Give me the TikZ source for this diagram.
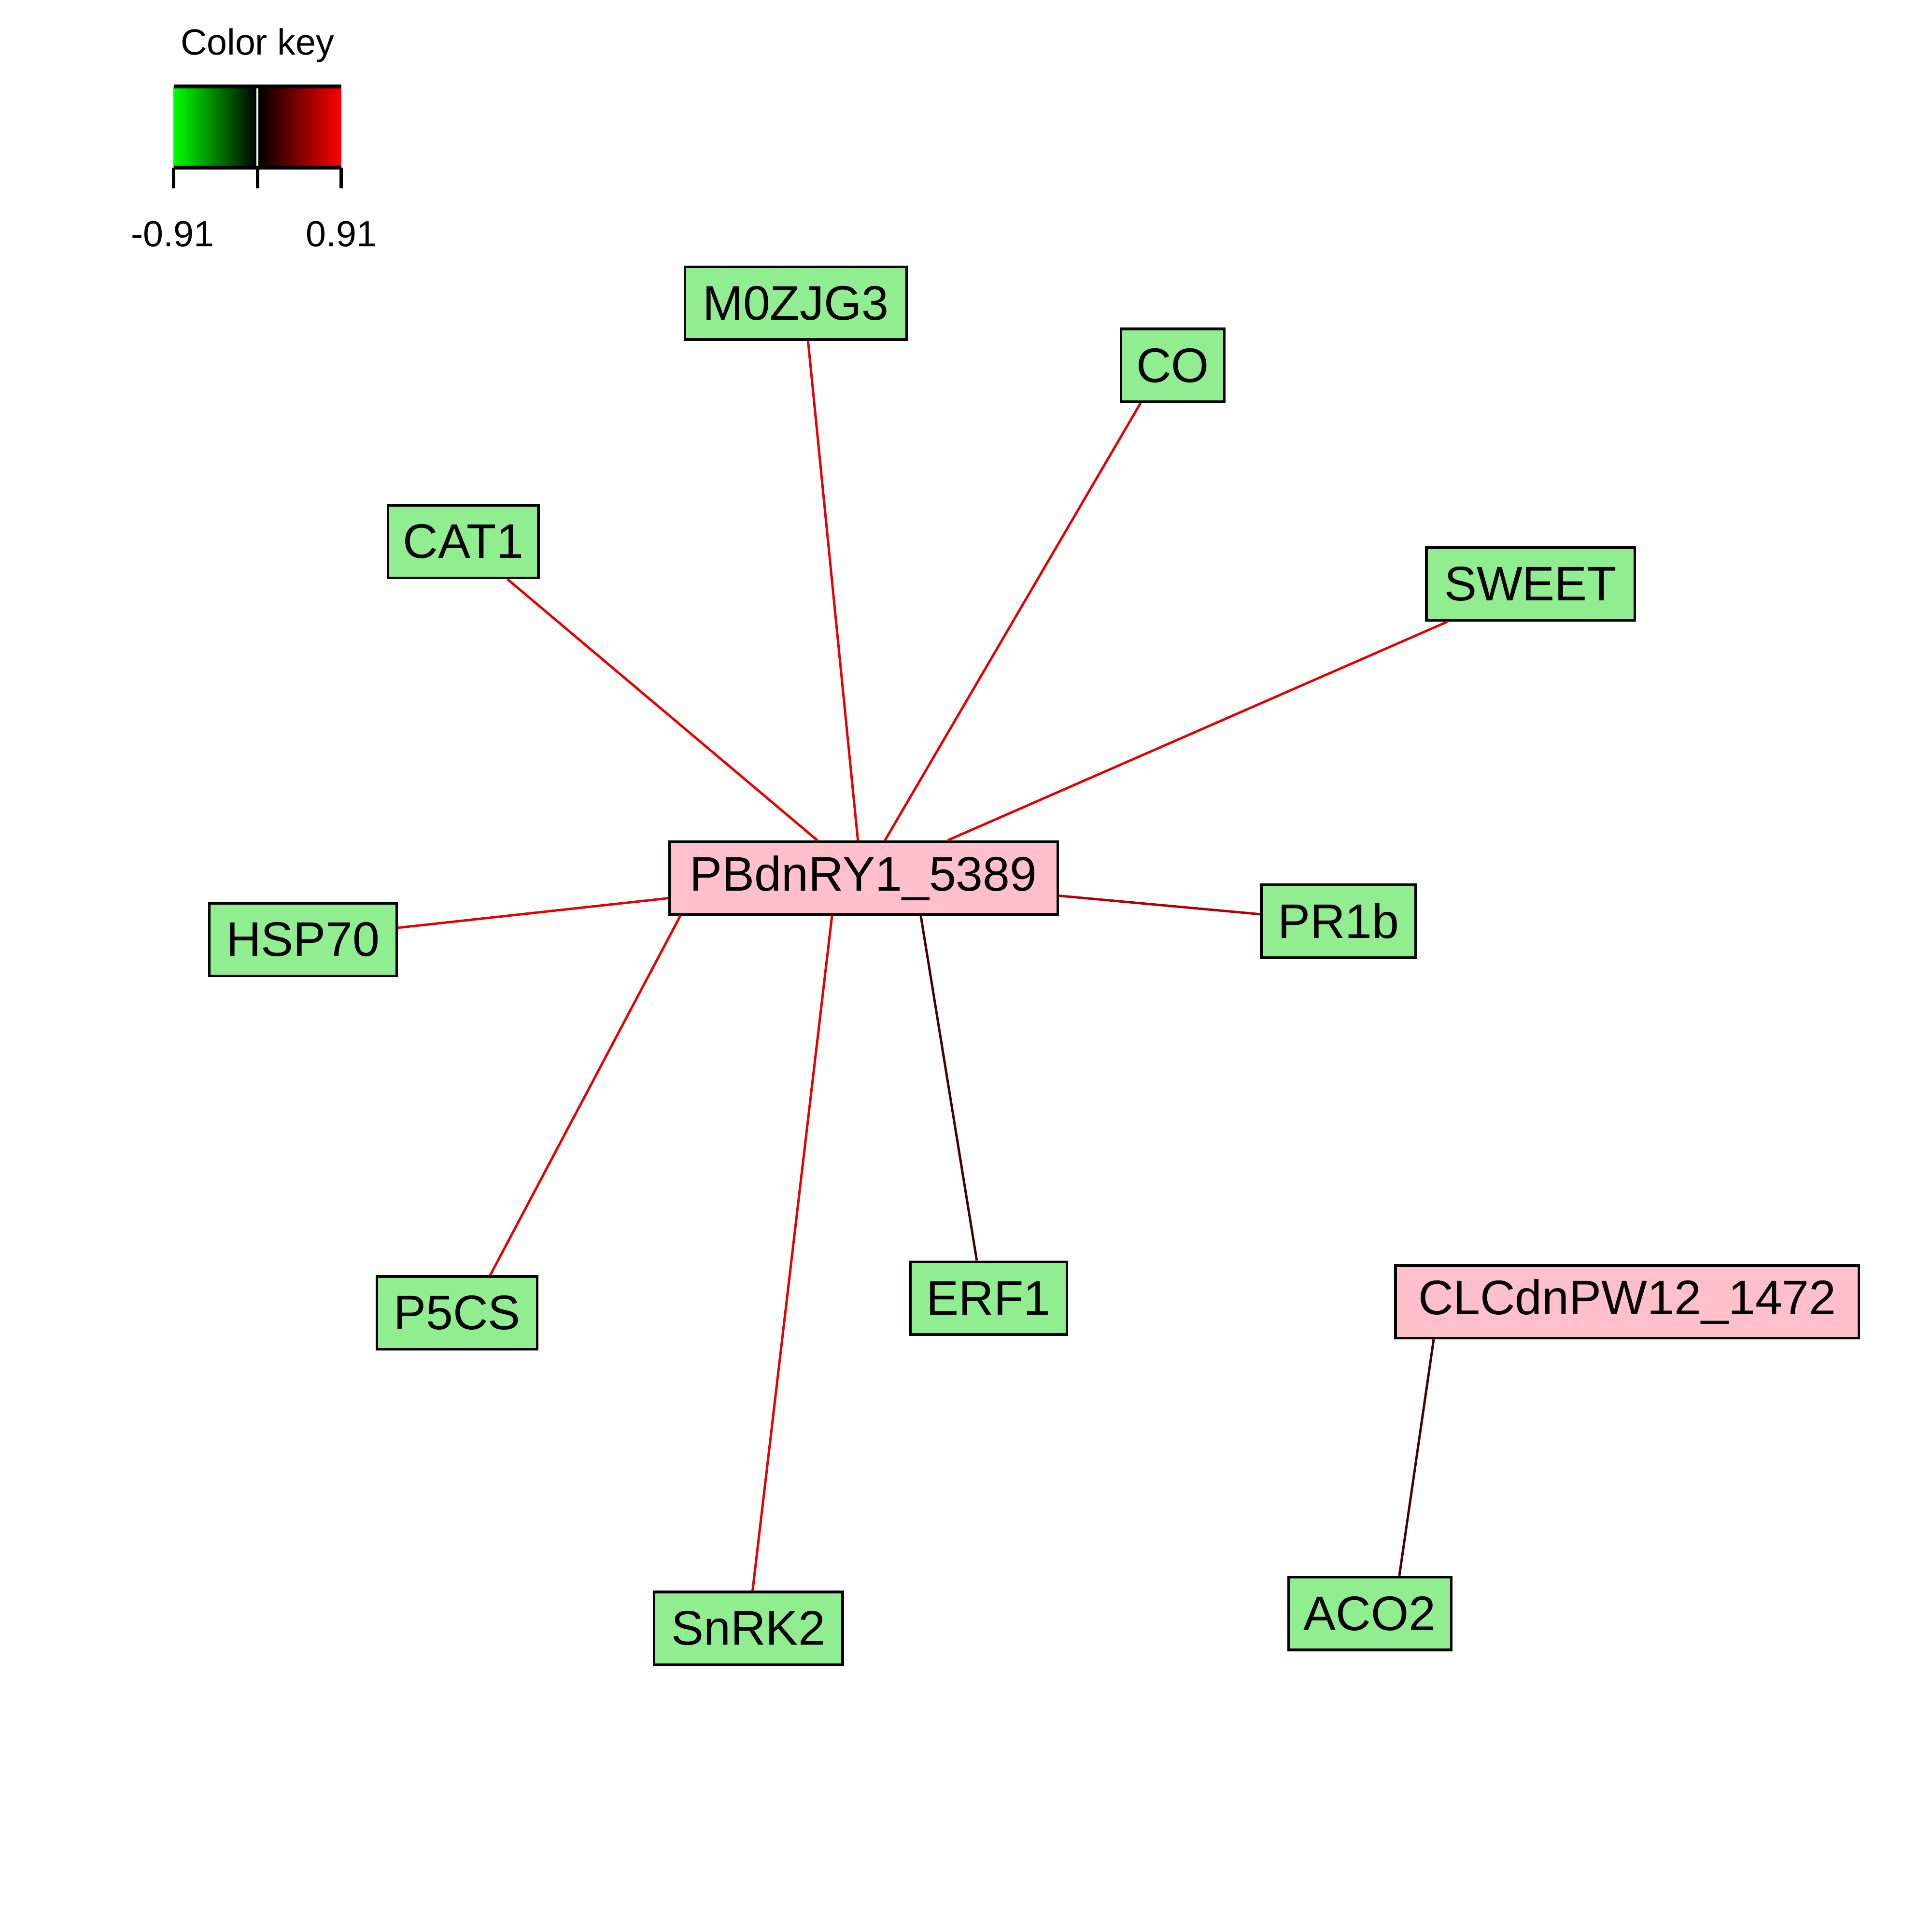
\documentclass[tikz,border=0pt]{standalone}
\usepackage{fontspec}
\setmainfont{Liberation Sans}
\definecolor{nodegreen}{HTML}{90EE90}
\definecolor{nodepink}{HTML}{FFC0CB}
\definecolor{edgered}{HTML}{E60000}
\definecolor{edgemid}{HTML}{B00000}
\definecolor{edgedark}{HTML}{480000}
\definecolor{keygreen}{HTML}{00FF00}
\definecolor{keyred}{HTML}{FF0000}
\begin{document}
\begin{tikzpicture}[x=0.01cm,y=-0.01cm,
  gene/.style={draw=black, line width=0.6pt, fill=nodegreen, rectangle, inner sep=0pt,
    minimum height=0.59cm, font=\fontsize{11.2}{13}\selectfont},
  hub/.style={gene, fill=nodepink},
  edge/.style={draw=edgered, line width=0.55pt},
  keytext/.style={font=\fontsize{8.4}{10}\selectfont, inner sep=0pt}]
\useasboundingbox (0,0) rectangle (1568,1568);
\fill[white] (0,0) rectangle (1568,1568);
% colour key
\shade[left color=keygreen, right color=black] (141,70) rectangle (209,136);
\shade[left color=black, right color=keyred] (209,70) rectangle (277,136);
\draw[white, line width=0.4pt] (209,70) -- (209,136);
\draw[black, line width=0.9pt] (141,70) -- (277,70);
\draw[black, line width=0.9pt] (141,136) -- (277,136);
\draw[black, line width=0.8pt] (141,136) -- (141,153) (209,136) -- (209,153) (277,136) -- (277,153);
\node[keytext] (keytitle) at (209,37) {Color key};
\node[keytext] (keymin) at (140,190) {-0.91};
\node[keytext] (keymax) at (277,190) {0.91};
% edges (drawn first, under the boxes)
\coordinate (m0zc) at (646,246);
\coordinate (coc) at (952,296.5);
\coordinate (cat1c) at (376,439.5);
\coordinate (sweetc) at (1242.5,474);
\coordinate (pbc) at (701,712.5);
\coordinate (hspc) at (246,762.5);
\coordinate (pr1bc) at (1086.5,747.5);
\coordinate (p5csc) at (371,1065.5);
\coordinate (erf1c) at (802.5,1053.5);
\coordinate (clcc) at (1321,1056.5);
\coordinate (snrkc) at (607.5,1321.5);
\coordinate (aco2c) at (1112,1309.5);
% nodes
\node[gene, minimum width=1.80cm] (m0z) at (m0zc) {M0ZJG3};
\node[gene, minimum width=0.84cm] (co) at (coc) {CO};
\node[gene, minimum width=1.22cm] (cat1) at (cat1c) {CAT1};
\node[gene, minimum width=1.69cm] (sweet) at (sweetc) {SWEET};
\node[hub, minimum width=3.15cm] (pb) at (pbc) {PBdnRY1\_5389};
\node[gene, minimum width=1.52cm] (hsp) at (hspc) {HSP70};
\node[gene, minimum width=1.25cm] (pr1b) at (pr1bc) {PR1b};
\node[gene, minimum width=1.30cm] (p5cs) at (p5csc) {P5CS};
\node[gene, minimum width=1.27cm] (erf1) at (erf1c) {ERF1};
\node[hub, minimum width=3.76cm] (clc) at (clcc) {CLCdnPW12\_1472};
\node[gene, minimum width=1.53cm] (snrk) at (snrkc) {SnRK2};
\node[gene, minimum width=1.32cm] (aco2) at (aco2c) {ACO2};
% edges
\draw[edge] ([xshift=1.54cm]pb.north west) -- ([xshift=1.01cm]m0z.south west);
\draw[edge] ([xshift=1.76cm]pb.north west) -- ([xshift=0.17cm]co.south west);
\draw[edge] ([xshift=1.21cm]pb.north west) -- ([xshift=0.98cm]cat1.south west);
\draw[edge] ([xshift=2.27cm]pb.north west) -- ([xshift=0.18cm]sweet.south west);
\draw[edge] ([yshift=-0.47cm]pb.north west) -- ([yshift=-0.21cm]hsp.north east);
\draw[edge, draw=edgemid] ([yshift=-0.45cm]pb.north east) -- ([yshift=-0.25cm]pr1b.north west);
\draw[edge] ([xshift=0.10cm]pb.south west) -- ([xshift=0.93cm]p5cs.south west |- p5cs.north);
\draw[edge, draw=edgedark] ([xshift=2.05cm]pb.south west) -- ([xshift=0.55cm]erf1.north west);
\draw[edge] ([xshift=1.33cm]pb.south west) -- ([xshift=0.81cm]snrk.north west);
\draw[edge, draw=edgedark] ([xshift=0.32cm]clc.south west) -- ([xshift=0.91cm]aco2.north west);
\end{tikzpicture}
\end{document}
